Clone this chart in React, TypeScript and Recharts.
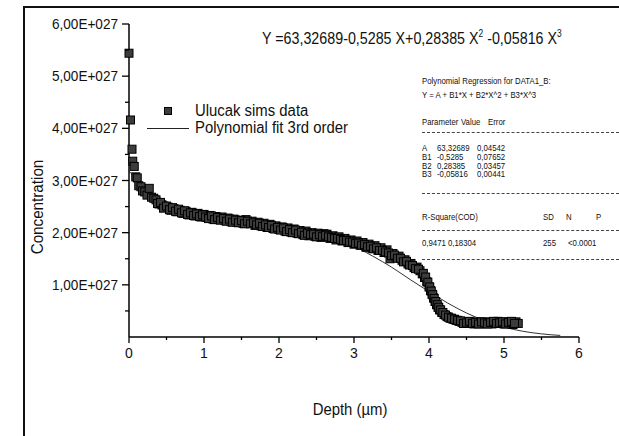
import React from 'react';
import { ComposedChart, Scatter, Line, XAxis, YAxis } from 'recharts';

// SIMS profile: depth in µm, concentration in units of 1E+027
const depth = [
  0.0, 0.02, 0.04, 0.05, 0.07, 0.09, 0.11, 0.13, 0.16, 0.18, 0.21, 0.24, 0.27, 0.3, 0.33,
  0.36, 0.4, 0.44, 0.48, 0.52, 0.56, 0.6, 0.64, 0.68, 0.72, 0.76, 0.8, 0.84, 0.88, 0.92, 0.96,
  1.0, 1.04, 1.08, 1.12, 1.16, 1.2, 1.24, 1.28, 1.32, 1.36, 1.4, 1.44, 1.48, 1.52, 1.56, 1.6,
  1.64, 1.68, 1.72, 1.76, 1.8, 1.84, 1.88, 1.92, 1.96, 2.0, 2.04, 2.08, 2.12, 2.16, 2.2, 2.24,
  2.28, 2.32, 2.36, 2.4, 2.44, 2.48, 2.52, 2.56, 2.6, 2.64, 2.68, 2.72, 2.76, 2.8, 2.84, 2.88,
  2.92, 2.96, 3.0, 3.04, 3.08, 3.12, 3.16, 3.2, 3.24, 3.28, 3.32, 3.36, 3.4, 3.44, 3.48, 3.52,
  3.56, 3.6, 3.64, 3.68, 3.72, 3.76, 3.8, 3.84, 3.88, 3.91, 3.94, 3.97, 4.0, 4.02, 4.04, 4.06,
  4.08, 4.1, 4.12, 4.14, 4.17, 4.2, 4.24, 4.28, 4.32, 4.36, 4.4, 4.44, 4.48, 4.52, 4.56, 4.6,
  4.64, 4.68, 4.72, 4.76, 4.8, 4.84, 4.88, 4.92, 4.96, 5.0, 5.04, 5.08, 5.12, 5.16, 5.19,
];
const conc = [
  5.44, 4.16, 3.6, 3.37, 3.27, 3.07, 3.05, 2.9, 2.88, 2.8, 2.78, 2.72, 2.85, 2.68, 2.66,
  2.63, 2.55, 2.53, 2.48, 2.49, 2.43, 2.46, 2.4, 2.43, 2.37, 2.41, 2.34, 2.39, 2.32, 2.37, 2.3,
  2.35, 2.29, 2.33, 2.26, 2.31, 2.25, 2.3, 2.23, 2.28, 2.21, 2.26, 2.2, 2.24, 2.18, 2.25, 2.19,
  2.22, 2.14, 2.2, 2.13, 2.18, 2.1, 2.16, 2.08, 2.13, 2.06, 2.11, 2.03, 2.09, 2.01, 2.07, 1.99,
  2.04, 1.96, 2.03, 1.94, 2.0, 1.93, 1.99, 1.91, 1.98, 1.97, 1.89, 1.94, 1.86, 1.92, 1.84, 1.89,
  1.81, 1.86, 1.78, 1.84, 1.76, 1.81, 1.72, 1.78, 1.7, 1.75, 1.66, 1.71, 1.62, 1.67, 1.5, 1.6,
  1.53, 1.55, 1.47, 1.48, 1.4, 1.41, 1.33, 1.34, 1.27, 1.21, 1.14, 1.06, 0.96, 0.89, 0.82, 0.75,
  0.68, 0.62, 0.57, 0.52, 0.47, 0.43, 0.39, 0.36, 0.34, 0.32, 0.3, 0.28, 0.29, 0.26, 0.29, 0.25,
  0.28, 0.29, 0.25, 0.28, 0.29, 0.25, 0.27, 0.3, 0.26, 0.25, 0.29, 0.27, 0.24, 0.29, 0.26,
];

// in-between measurements (the profile is sampled twice as densely as above)
const depth2 = [
  0.38, 0.42, 0.46, 0.5, 0.54, 0.58, 0.62, 0.66, 0.7, 0.74, 0.78, 0.82, 0.86, 0.9, 0.94, 0.98,
  1.02, 1.06, 1.1, 1.14, 1.18, 1.22, 1.26, 1.3, 1.34, 1.38, 1.42, 1.46, 1.5, 1.54, 1.58, 1.62,
  1.66, 1.7, 1.74, 1.78, 1.82, 1.86, 1.9, 1.94, 1.98, 2.02, 2.06, 2.1, 2.14, 2.18, 2.22, 2.26,
  2.3, 2.34, 2.38, 2.42, 2.46, 2.5, 2.54, 2.58, 2.62, 2.66, 2.7, 2.74, 2.78, 2.82, 2.86, 2.9,
  2.94, 2.98, 3.02, 3.06, 3.1, 3.14, 3.18, 3.22, 3.26, 3.3, 3.34, 3.38, 3.42, 3.46, 3.5, 3.54,
  3.58, 3.62, 3.66, 3.7, 3.74, 3.78, 3.82, 3.86, 3.925, 3.955, 3.985, 4.01, 4.03, 4.05, 4.07,
  4.09, 4.11, 4.13, 4.155, 4.185, 4.22, 4.26, 4.3, 4.34, 4.38, 4.42, 4.46, 4.5, 4.54, 4.58,
  4.62, 4.66, 4.7, 4.74, 4.78, 4.82, 4.86, 4.9, 4.94, 4.98, 5.02, 5.06, 5.1, 5.14,
];
const conc2 = [
  2.56, 2.58, 2.47, 2.51, 2.44, 2.48, 2.41, 2.45, 2.38, 2.42, 2.35, 2.38, 2.33, 2.36, 2.31, 2.34,
  2.3, 2.27, 2.32, 2.25, 2.29, 2.24, 2.27, 2.22, 2.26, 2.2, 2.24, 2.19, 2.23, 2.17, 2.22, 2.17,
  2.19, 2.15, 2.18, 2.12, 2.15, 2.1, 2.14, 2.07, 2.1, 2.05, 2.09, 2.02, 2.06, 2.0, 2.05, 1.98,
  2.01, 1.95, 1.99, 1.96, 1.97, 1.92, 1.96, 1.93, 1.95, 1.92, 1.91, 1.89, 1.89, 1.87, 1.85, 1.85,
  1.82, 1.82, 1.79, 1.8, 1.76, 1.77, 1.73, 1.74, 1.69, 1.71, 1.66, 1.66, 1.63, 1.61, 1.56, 1.57,
  1.51, 1.51, 1.44, 1.45, 1.38, 1.37, 1.31, 1.3, 1.22, 1.15, 1.05, 0.96, 0.88, 0.81, 0.74,
  0.68, 0.62, 0.57, 0.52, 0.47, 0.42, 0.38, 0.36, 0.34, 0.32, 0.31, 0.26, 0.27, 0.3, 0.26,
  0.28, 0.25, 0.29, 0.27, 0.25, 0.28, 0.3, 0.26, 0.27, 0.29, 0.25, 0.28, 0.3, 0.26,
];

// polynomial fit curve
const fitDepth = [0, 0.25, 0.5, 0.75, 1, 1.25, 1.5, 1.75, 2, 2.25, 2.5, 2.75, 3, 3.25, 3.5, 3.75, 4, 4.25, 4.5, 4.75, 5, 5.25, 5.5, 5.75];
const fitConc = [3.18, 2.83, 2.6, 2.45, 2.35, 2.29, 2.24, 2.2, 2.16, 2.1, 2.02, 1.9, 1.74, 1.55, 1.34, 1.1, 0.87, 0.65, 0.46, 0.31, 0.19, 0.11, 0.06, 0.03];

const yTicks = [0.5, 1, 1.5, 2, 2.5, 3, 3.5, 4, 4.5, 5, 5.5, 6];
const xTicks = [0, 0.5, 1, 1.5, 2, 2.5, 3, 3.5, 4, 4.5, 5, 5.5, 6];

const points = [
  ...depth.map((x, i) => ({ x, y: conc[i] })),
  ...depth2.map((x, i) => ({ x, y: conc2[i] })),
];
const fit = fitDepth.map((x, i) => ({ x, y: fitConc[i] }));

const FONT = "'Liberation Sans', Arial, sans-serif";

const YTick = (props: any) => {
  const { x, y, payload } = props;
  const major = Number.isInteger(payload.value);
  return (
    <g>
      <line x1={x - (major ? 7 : 4)} x2={x} y1={y} y2={y} stroke="#000" strokeWidth={1.3} />
      {major && (
        <text
          transform={`translate(${x - 11},${y + 5}) scale(0.97,1)`}
          textAnchor="end"
          fontSize={14}
          fontFamily={FONT}
          fill="#111"
        >
          {`${payload.value},00E+027`}
        </text>
      )}
    </g>
  );
};

const XTick = (props: any) => {
  const { x, y, payload } = props;
  const major = Number.isInteger(payload.value);
  return (
    <g>
      <line x1={x} x2={x} y1={y} y2={y + (major ? 6 : 3)} stroke="#000" strokeWidth={1.3} />
      {major && (
        <text x={x} y={y + 21} textAnchor="middle" fontSize={14} fontFamily={FONT} fill="#111">
          {payload.value}
        </text>
      )}
    </g>
  );
};

const Square = (props: any) => {
  const { cx, cy } = props;
  return <rect x={cx - 4} y={cy - 4} width={8} height={8} fill="#3c3c3c" stroke="#000" strokeWidth={1} />;
};

const abs = (left: number, top: number, extra: React.CSSProperties = {}): React.CSSProperties => ({
  position: 'absolute',
  left,
  top,
  whiteSpace: 'nowrap',
  lineHeight: 1,
  transformOrigin: 'left center',
  ...extra,
});

const dash = (top: number): React.CSSProperties => ({
  position: 'absolute',
  left: 422,
  top,
  width: 197,
  borderTop: '1px dashed #444',
});

export default function App() {
  const t: React.CSSProperties = { fontSize: 9.5, lineHeight: 0.8, color: '#111', transform: 'scaleX(0.82)' };
  const big: React.CSSProperties = { fontSize: 16, color: '#111', transform: 'scaleX(0.93)' };
  const rows: [string, string, string, number][] = [
    ['A', '63,32689', '0,04542', 144],
    ['B1', '-0,5285', '0,07652', 152.8],
    ['B2', '0,28385', '0,03457', 161.6],
    ['B3', '-0,05816', '0,00441', 170.4],
  ];
  return (
    <div style={{ position: 'absolute', left: 0, top: 0, width: 619, height: 436, background: '#fff', fontFamily: FONT, overflow: 'hidden' }}>
      <div style={{ position: 'absolute', left: 23, top: 6, width: 600, height: 440, borderLeft: '2px solid #111', borderTop: '2px solid #111' }} />
      <ComposedChart width={619} height={436} margin={{ top: 24, right: 40, bottom: 69, left: 0 }}>
        <XAxis
          dataKey="x"
          type="number"
          domain={[0, 6]}
          ticks={xTicks}
          interval={0}
          tickSize={0}
          tickMargin={0}
          tick={XTick}
          tickLine={false}
          axisLine={{ stroke: '#000', strokeWidth: 1.5 }}
        />
        <YAxis
          type="number"
          domain={[0, 6]}
          ticks={yTicks}
          interval={0}
          width={129}
          tickSize={0}
          tickMargin={0}
          tick={YTick}
          tickLine={false}
          axisLine={{ stroke: '#000', strokeWidth: 1.5 }}
        />
        <Line data={fit} dataKey="y" type="monotone" stroke="#333" strokeWidth={1} dot={false} isAnimationActive={false} />
        <Scatter data={points} dataKey="y" shape={Square} isAnimationActive={false} />
      </ComposedChart>

      <div style={abs(262, 29, { fontSize: 17, color: '#111', transform: 'scaleX(0.84)' })}>
        Y =63,32689-0,5285 X+0,28385 X<sup style={{ fontSize: 10 }}>2</sup> -0,05816 X<sup style={{ fontSize: 10 }}>3</sup>
      </div>

      <div style={{ position: 'absolute', left: 164, top: 107, width: 8, height: 8, background: '#3c3c3c', border: '1px solid #000', boxSizing: 'border-box' }} />
      <div style={abs(195, 103, big)}>Ulucak sims data</div>
      <div style={{ position: 'absolute', left: 147, top: 128, width: 42, borderTop: '1px solid #222' }} />
      <div style={abs(195, 120, big)}>Polynomial fit 3rd order</div>

      <div style={{ position: 'absolute', left: 38, top: 207, whiteSpace: 'nowrap', lineHeight: 1, fontSize: 16, color: '#111', transform: 'translate(-50%, -50%) rotate(-90deg) scaleX(0.95)' }}>
        Concentration
      </div>
      <div style={{ position: 'absolute', left: 350, top: 410, whiteSpace: 'nowrap', lineHeight: 1, fontSize: 16, color: '#111', transform: 'translate(-50%, -50%) scaleX(0.93)' }}>
        Depth (µm)
      </div>

      <div style={abs(422, 77, t)}>Polynomial Regression for DATA1_B:</div>
      <div style={abs(422, 91, t)}>Y = A + B1*X + B2*X^2 + B3*X^3</div>
      <div style={abs(422, 118, t)}>Parameter</div>
      <div style={abs(461, 118, t)}>Value</div>
      <div style={abs(488, 118, t)}>Error</div>
      <div style={dash(132)} />
      {rows.map(([p, v, e, top]) => (
        <React.Fragment key={p}>
          <div style={abs(422, top, t)}>{p}</div>
          <div style={abs(437, top, t)}>{v}</div>
          <div style={abs(477, top, t)}>{e}</div>
        </React.Fragment>
      ))}
      <div style={dash(193)} />
      <div style={abs(422, 213, t)}>R-Square(COD)</div>
      <div style={abs(543, 213, t)}>SD</div>
      <div style={abs(566, 213, t)}>N</div>
      <div style={abs(596, 213, t)}>P</div>
      <div style={dash(230)} />
      <div style={abs(422, 239, t)}>0,9471 0,18304</div>
      <div style={abs(543, 239, t)}>255</div>
      <div style={abs(568, 239, t)}>&lt;0.0001</div>
      <div style={dash(259)} />
    </div>
  );
}
